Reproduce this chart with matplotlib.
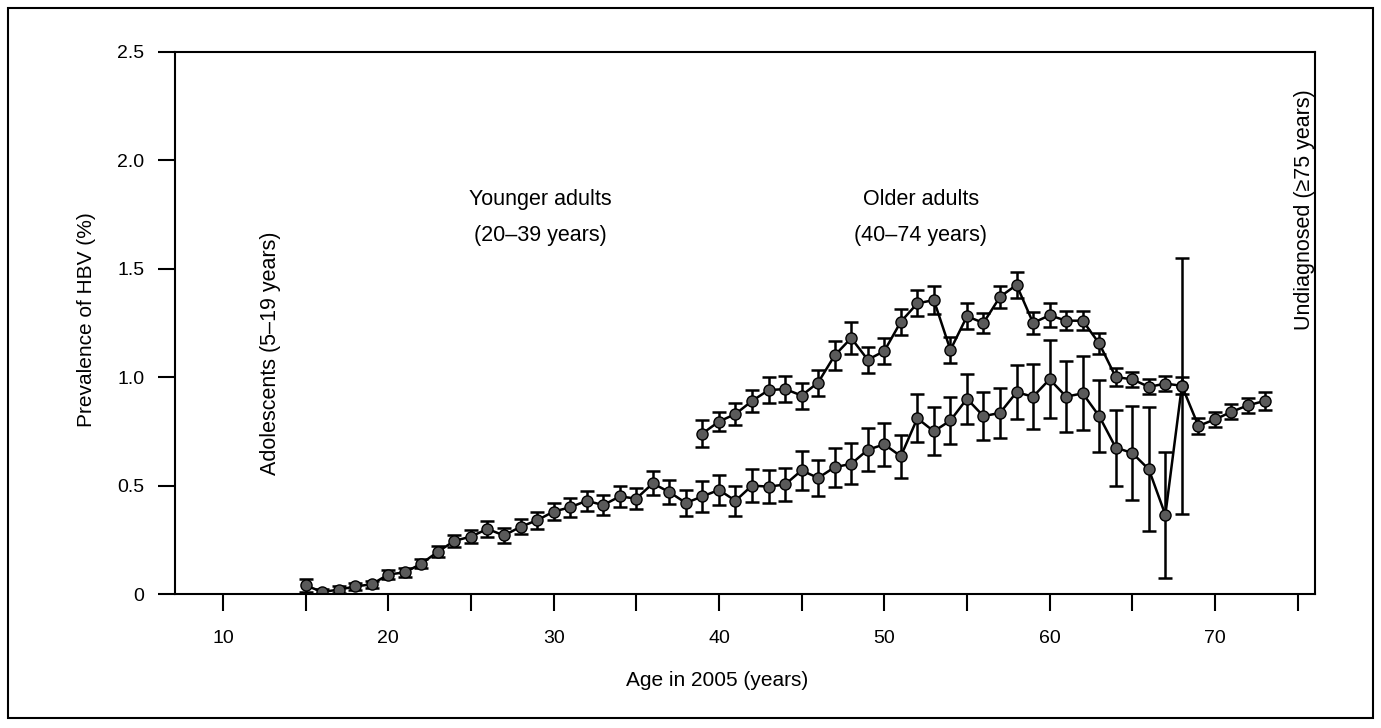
import matplotlib
matplotlib.use("Agg")
import matplotlib.pyplot as plt
from matplotlib.patches import Rectangle

plt.rcParams['font.family'] = ['Liberation Sans', 'DejaVu Sans']

# all ages (whole population), 15-68
all_ages = list(range(15, 69))
all_prev = [0.04, 0.01, 0.02, 0.035, 0.045, 0.09, 0.10, 0.14, 0.195, 0.245,
            0.265, 0.30, 0.27, 0.31, 0.34, 0.38, 0.40, 0.43, 0.41, 0.45,
            0.44, 0.51, 0.47, 0.42, 0.45, 0.48, 0.43, 0.50, 0.495, 0.505,
            0.57, 0.535, 0.585, 0.60, 0.665, 0.69, 0.635, 0.81, 0.75, 0.80,
            0.90, 0.82, 0.835, 0.93, 0.91, 0.99, 0.91, 0.925, 0.82, 0.675,
            0.65, 0.575, 0.365, 0.96]
all_err = [0.03, 0.015, 0.015, 0.015, 0.015, 0.02, 0.02, 0.02, 0.025, 0.027,
           0.03, 0.035, 0.035, 0.035, 0.04, 0.04, 0.045, 0.045, 0.045, 0.05,
           0.05, 0.055, 0.055, 0.06, 0.07, 0.07, 0.07, 0.075, 0.075, 0.075,
           0.09, 0.085, 0.09, 0.095, 0.10, 0.10, 0.10, 0.11, 0.11, 0.11,
           0.115, 0.11, 0.115, 0.125, 0.15, 0.18, 0.165, 0.17, 0.165, 0.175,
           0.215, 0.285, 0.29, 0.59]

# older cohort, 39-73
old_ages = list(range(39, 74))
old_prev = [0.74, 0.795, 0.83, 0.89, 0.94, 0.945, 0.915, 0.975, 1.10, 1.18,
            1.08, 1.12, 1.255, 1.34, 1.355, 1.125, 1.28, 1.25, 1.37, 1.425,
            1.25, 1.285, 1.26, 1.26, 1.155, 1.0, 0.99, 0.955, 0.97, 0.96,
            0.775, 0.805, 0.84, 0.87, 0.89]
old_err = [0.06, 0.045, 0.05, 0.05, 0.06, 0.06, 0.06, 0.06, 0.065, 0.075,
           0.06, 0.06, 0.06, 0.06, 0.065, 0.06, 0.06, 0.045, 0.05, 0.06,
           0.05, 0.055, 0.045, 0.045, 0.05, 0.04, 0.035, 0.035, 0.035, 0.04,
           0.035, 0.035, 0.035, 0.035, 0.04]

x_ticks = list(range(10, 80, 5))
x_labels = [str(t) if t % 10 == 0 else '' for t in x_ticks]
y_ticks = [0, 0.5, 1.0, 1.5, 2.0, 2.5]
y_labels = ['0', '0.5', '1.0', '1.5', '2.0', '2.5']

fig = plt.figure(figsize=(13.81, 7.28), dpi=100)
ax = fig.add_axes([0.1267, 0.184, 0.8255, 0.745])

style = dict(fmt='-o', color='black', mfc='#5a5a5a', mec='black',
             markersize=8, lw=1.8, elinewidth=1.8, capsize=5, capthick=1.8)
ax.errorbar(all_ages, all_prev, yerr=all_err, **style)
ax.errorbar(old_ages, old_prev, yerr=old_err, **style)

ax.set_xlim(7.1, 76.05)
ax.set_ylim(0, 2.5)
ax.set_xticks(x_ticks)
ax.set_xticklabels(x_labels, fontsize=14)
ax.set_yticks(y_ticks)
ax.set_yticklabels(y_labels, fontsize=14)
ax.tick_params(axis='x', length=12, width=1.5, pad=14)
ax.tick_params(axis='y', length=12, width=1.5, pad=10)
for s in ax.spines.values():
    s.set_linewidth(1.5)

ax.set_xlabel('Age in 2005 (years)', fontsize=15)
ax.set_ylabel('Prevalence of HBV (%)', fontsize=15)
ax.xaxis.set_label_coords(0.476, -0.142)
ax.yaxis.set_label_coords(-0.069, 0.506)

ax.text(29.2, 1.82, 'Younger adults', ha='center', va='center', fontsize=15.5)
ax.text(29.2, 1.655, '(20\u201339 years)', ha='center', va='center', fontsize=15.5)
ax.text(52.2, 1.82, 'Older adults', ha='center', va='center', fontsize=15.5)
ax.text(52.2, 1.655, '(40\u201374 years)', ha='center', va='center', fontsize=15.5)
ax.text(12.9, 1.11, 'Adolescents (5\u201319 years)', rotation=90,
        ha='center', va='center', fontsize=15.5)
ax.text(75.4, 1.77, 'Undiagnosed (\u226575 years)', rotation=90,
        ha='center', va='center', fontsize=15.5)

# frame around the whole figure
fig.patches.append(Rectangle((0.006, 0.014), 0.988, 0.975, fill=False,
                             lw=1.5, ec='black', transform=fig.transFigure))

fig.savefig('out.png', dpi=100)
